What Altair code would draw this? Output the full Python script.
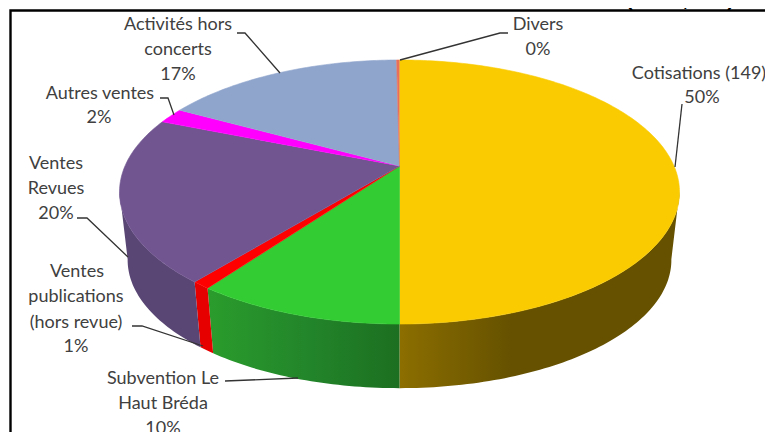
import math
import altair as alt
import pandas as pd

# ---- chart values -------------------------------------------------------
slices = ["Cotisations (149)", "Subvention Le Haut Bréda", "Ventes publications (hors revue)",
          "Ventes Revues", "Autres ventes", "Activités hors concerts", "Divers"]
shares = [50.0, 10.0, 0.9, 20.2, 1.9, 16.8, 0.2]
top_colors = ["#FACB00", "#33CC33", "#FF0000", "#715590", "#FF00FF", "#8FA5CC", "#E8705A"]
title_text = "Détail des Recettes (9 000,00 €)"

label_lines = ["Cotisations (149)", "50%", "Subvention Le", "Haut Bréda", "10%",
               "Ventes", "publications", "(hors revue)", "1%",
               "Ventes", "Revues", "20%", "Autres ventes", "2%",
               "Activités hors", "concerts", "17%", "Divers", "0%"]

# ---- layout (picture coordinates) ---------------------------------------
label_x = [699, 702, 163, 163, 163, 77, 76, 76, 76, 56, 56, 56, 100, 99, 178, 178, 178, 538, 538]
label_y = [74, 98, 379, 404, 429, 272, 297, 323, 347, 164, 189, 214, 94, 118, 25, 50, 75, 25, 50]
leaders = [
    [(682, 104), (675, 167)],
    [(225, 381), (298, 378)],
    [(132, 326), (142, 326), (203, 346)],
    [(77, 218), (87, 218), (128, 257)],
    [(160, 98), (168, 98), (174, 115)],
    [(237, 33), (245, 33), (280, 73)],
    [(508, 33), (500, 33), (400, 60)],
]
CX, CY = 399.5, 166.0      # apex of the top face
AX, AY, K = 274.5, 126.9, -0.197   # perspective of the disc
BOTTOM_SCALE, BOTTOM_CY = 0.971, 234.7


def rim(theta, scale=1.0, cy=CY):
    t = math.radians(theta)
    u, v = math.sin(t), -math.cos(t)
    d = 1 + K * v
    return CX + scale * AX * u / d, cy + scale * AY * v / d


def arc(a, b, scale=1.0, cy=CY):
    n = max(2, int(abs(b - a)) + 2)
    return [rim(a + (b - a) * i / (n - 1), scale, cy) for i in range(n)]


def frame(points):
    return pd.DataFrame({"x": [p[0] for p in points], "y": [p[1] for p in points],
                         "i": list(range(len(points)))})


X = alt.X("x:Q", axis=None, scale=alt.Scale(domain=[8, 765], range=[0, 757]))
Y = alt.Y("y:Q", axis=None, scale=alt.Scale(domain=[8, 432], range=[0, 424]))


def polygon(points, fill, stroke=None, width=0.6):
    kw = {"stroke": stroke, "strokeWidth": width} if stroke else {"strokeWidth": 0}
    return alt.Chart(frame(points)).mark_line(fill=fill, clip=False, **kw).encode(
        x=X, y=Y, order=alt.Order("i:Q"))


def hgrad(stops):
    return alt.LinearGradient(
        gradient="linear", x1=0, x2=1, y1=0, y2=0,
        stops=[alt.GradientStop(offset=o, color=c) for o, c in stops])


total = sum(shares)
edges = [0.0]
for s in shares:
    edges.append(edges[-1] + 360.0 * s / total)

wall_fills = [
    hgrad([(0, "#8C6E00"), (0.4, "#655100"), (1, "#655100")]),
    hgrad([(0, "#2A9C2C"), (0.55, "#22842A"), (1, "#1C6F20")]),
    "#E60000",
    "#5A4674",
]
WALL_START, WALL_END = 101.0, 259.0
layers = []
for i, fill in enumerate(wall_fills):
    a = max(edges[i], WALL_START)
    b = min(edges[i + 1], WALL_END)
    pts = arc(a, b) + arc(b, a, BOTTOM_SCALE, BOTTOM_CY)
    layers.append(polygon(pts, fill))

for i, col in enumerate(top_colors):
    pts = [(CX, CY)] + arc(edges[i], edges[i + 1])
    layers.append(polygon(pts, col, stroke=col))

# frame lines
frame_df = pd.DataFrame({"x": [773, 10.5, 10.5], "y": [10.5, 10.5, 432], "i": [0, 1, 2]})
layers.append(alt.Chart(frame_df).mark_line(color="black", strokeWidth=2.4, clip=False).encode(
    x=X, y=Y, order=alt.Order("i:Q")))

# leaders
for line in leaders:
    layers.append(alt.Chart(frame(line)).mark_line(color="#333333", strokeWidth=1.3, clip=False).encode(
        x=X, y=Y, order=alt.Order("i:Q")))

labels = pd.DataFrame({"x": label_x, "y": label_y, "t": label_lines})
layers.append(alt.Chart(labels).mark_text(font="Lato", fontSize=18, color="#404040", align="center",
                                          baseline="middle", clip=False).encode(x=X, y=Y, text="t:N"))

title_df = pd.DataFrame({"x": [437], "y": [6], "t": [title_text]})
layers.append(alt.Chart(title_df).mark_text(font="Liberation Sans", fontSize=20, fontWeight="bold",
                                            color="black", align="left", baseline="alphabetic",
                                            clip=False).encode(x=X, y=Y, text="t:N"))

chart = alt.layer(*layers).properties(
    width=757, height=424, padding=0,
    autosize=alt.AutoSizeParams(type="none"),
    background="white",
).configure_view(stroke=None)

chart.save("out.html", embed_options={"renderer": "svg", "actions": False})
